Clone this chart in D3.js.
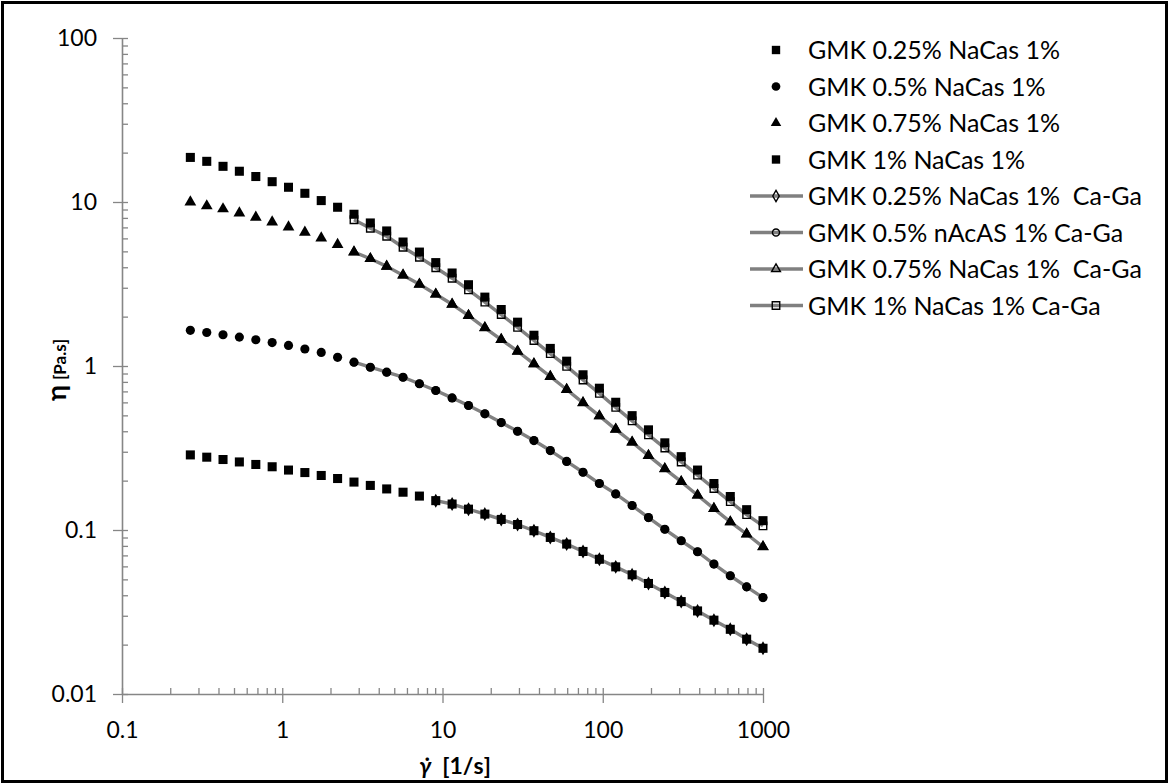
<!DOCTYPE html>
<html>
<head>
<meta charset="utf-8">
<script src="https://cdn.jsdelivr.net/npm/d3@7"></script>
<style>
  html, body { margin: 0; padding: 0; background: #fff; }
  svg { display: block; }
  text { font-family: Lato, "Liberation Sans", sans-serif; fill: #000; }
</style>
</head>
<body>
<svg id="chart" width="1169" height="784"></svg>
<script>
// ---------------- DATA ----------------
const shearRate = [0.267, 0.338, 0.427, 0.540, 0.684, 0.865, 1.094, 1.384, 1.751, 2.215,
  2.803, 3.545, 4.485, 5.673, 7.177, 9.078, 11.48, 14.53, 18.38, 23.25,
  29.41, 37.20, 47.06, 59.54, 75.32, 95.28, 120.5, 152.5, 192.9, 244.0,
  308.7, 390.5, 494.0, 625.0, 790.6, 1000];

const gmk025 = [0.287, 0.278, 0.269, 0.260, 0.251, 0.243, 0.232, 0.224, 0.215, 0.206,
  0.196, 0.187, 0.178, 0.170, 0.161, 0.151, 0.144, 0.134, 0.125, 0.116,
  0.108, 0.0990, 0.0901, 0.0821, 0.0740, 0.0663, 0.0596, 0.0533, 0.0472, 0.0416,
  0.0366, 0.0321, 0.0282, 0.0248, 0.0216, 0.0190];
const gmk05 = [1.65, 1.60, 1.55, 1.50, 1.445, 1.39, 1.335, 1.27, 1.21, 1.13,
  1.055, 0.983, 0.917, 0.854, 0.779, 0.709, 0.639, 0.574, 0.511, 0.452,
  0.400, 0.351, 0.305, 0.262, 0.225, 0.192, 0.166, 0.141, 0.119, 0.101,
  0.0860, 0.0737, 0.0620, 0.0526, 0.0450, 0.0387];
const gmk075 = [10.0, 9.46, 9.07, 8.57, 8.07, 7.55, 7.04, 6.54, 6.03, 5.50,
  4.95, 4.51, 4.05, 3.58, 3.15, 2.74, 2.38, 2.03, 1.71, 1.45,
  1.23, 1.03, 0.863, 0.719, 0.596, 0.496, 0.411, 0.343, 0.284, 0.236,
  0.197, 0.163, 0.135, 0.112, 0.0945, 0.0790];
const gmk1 = [18.7, 17.7, 16.5, 15.4, 14.3, 13.3, 12.3, 11.3, 10.2, 9.29,
  8.42, 7.45, 6.66, 5.70, 4.95, 4.27, 3.69, 3.13, 2.63, 2.21,
  1.85, 1.54, 1.28, 1.07, 0.884, 0.732, 0.601, 0.498, 0.408, 0.340,
  0.280, 0.232, 0.192, 0.160, 0.133, 0.114];

// Ca-Ga series (measured from ~2.8 1/s, the 0.25% one from ~9 1/s)
const caGaRate = [2.803, 3.545, 4.485, 5.673, 7.177, 9.078, 11.48, 14.53, 18.38, 23.25,
  29.41, 37.20, 47.06, 59.54, 75.32, 95.28, 120.5, 152.5, 192.9, 244.0,
  308.7, 390.5, 494.0, 625.0, 790.6, 1000];
const caGa025Rate = [9.078, 11.48, 14.53, 18.38, 23.25,
  29.41, 37.20, 47.06, 59.54, 75.32, 95.28, 120.5, 152.5, 192.9, 244.0,
  308.7, 390.5, 494.0, 625.0, 790.6, 1000];
const caGa025 = [0.151, 0.144, 0.134, 0.125, 0.116, 0.108, 0.0990, 0.0901, 0.0821, 0.0740,
  0.0663, 0.0596, 0.0533, 0.0472, 0.0416, 0.0366, 0.0321, 0.0282, 0.0248, 0.0216, 0.0190];
const caGa05 = [1.055, 0.983, 0.917, 0.854, 0.779, 0.709, 0.639, 0.574, 0.511, 0.452,
  0.400, 0.351, 0.305, 0.262, 0.225, 0.192, 0.166, 0.141, 0.119, 0.101,
  0.0860, 0.0737, 0.0620, 0.0526, 0.0450, 0.0387];
const caGa075 = [4.95, 4.51, 4.05, 3.58, 3.15, 2.74, 2.38, 2.03, 1.71, 1.45,
  1.23, 1.03, 0.863, 0.719, 0.596, 0.496, 0.411, 0.343, 0.284, 0.236,
  0.197, 0.163, 0.135, 0.112, 0.0945, 0.0790];
const caGa1 = [7.80, 6.92, 6.18, 5.30, 4.60, 3.97, 3.43, 2.91, 2.45, 2.06,
  1.72, 1.43, 1.19, 0.995, 0.822, 0.681, 0.559, 0.463, 0.380, 0.316,
  0.260, 0.216, 0.179, 0.149, 0.124, 0.106];

const xTickValues = [0.1, 1, 10, 100, 1000];
const xTickLabels = ["0.1", "1", "10", "100", "1000"];
const yTickValues = [0.01, 0.1, 1, 10, 100];
const yTickLabels = ["0.01", "0.1", "1", "10", "100"];

const seriesNames = [
  "GMK 0.25% NaCas 1%", "GMK 0.5% NaCas 1%", "GMK 0.75% NaCas 1%", "GMK 1% NaCas 1%",
  "GMK 0.25% NaCas 1%  Ca-Ga", "GMK 0.5% nAcAS 1% Ca-Ga", "GMK 0.75% NaCas 1%  Ca-Ga", "GMK 1% NaCas 1% Ca-Ga"
];

// ---------------- LAYOUT ----------------
const svg = d3.select("#chart");
const X0 = 122, X1 = 763, Y0 = 38, Y1 = 694;
const x = d3.scaleLog().domain([0.1, 1000]).range([X0, X1]);
const y = d3.scaleLog().domain([0.01, 100]).range([Y1, Y0]);
const axisColor = "#868686";
const lineColor = "#808080";

// outer border
svg.append("rect").attr("x", 2.5).attr("y", 2.5).attr("width", 1164).attr("height", 779)
  .attr("fill", "none").attr("stroke", "#000").attr("stroke-width", 3);

// minor tick values
const minorX = [], minorY = [];
for (let e = -1; e < 3; e++) for (let m = 2; m <= 9; m++) minorX.push(m * Math.pow(10, e));
for (let e = -2; e < 2; e++) for (let m = 2; m <= 9; m++) minorY.push(m * Math.pow(10, e));

function styleAxis(g) {
  g.select(".domain").attr("stroke", axisColor).attr("stroke-width", 1.6);
  g.selectAll(".tick line").attr("stroke", axisColor).attr("stroke-width", 1.3);
  g.selectAll("text").attr("font-size", 23).attr("fill", "#000")
    .attr("font-family", "Lato, 'Liberation Sans', sans-serif");
}

// Y axis
const gyMinor = svg.append("g").attr("transform", `translate(${X0},0)`)
  .call(d3.axisLeft(y).tickValues(minorY).tickSize(-6).tickFormat(""));
gyMinor.select(".domain").remove();
gyMinor.selectAll(".tick line").attr("stroke", axisColor).attr("stroke-width", 1.3);
const gy = svg.append("g").attr("transform", `translate(${X0},0)`)
  .call(d3.axisLeft(y).tickValues(yTickValues).tickSizeInner(9).tickSizeOuter(0)
    .tickPadding(16).tickFormat((d, i) => yTickLabels[i]));
gy.selectAll(".tick line").attr("x2", -9).attr("x1", 6);
styleAxis(gy);

// X axis
const gxMinor = svg.append("g").attr("transform", `translate(0,${Y1})`)
  .call(d3.axisBottom(x).tickValues(minorX).tickSize(-6).tickFormat(""));
gxMinor.select(".domain").remove();
gxMinor.selectAll(".tick line").attr("stroke", axisColor).attr("stroke-width", 1.3);
const gx = svg.append("g").attr("transform", `translate(0,${Y1})`)
  .call(d3.axisBottom(x).tickValues(xTickValues).tickSizeInner(9).tickSizeOuter(0)
    .tickPadding(19).tickFormat((d, i) => xTickLabels[i]));
gx.selectAll(".tick line").attr("y1", -6).attr("y2", 9);
styleAxis(gx);

// Axis titles
const xt = svg.append("text").attr("x", 455).attr("y", 774).attr("text-anchor", "middle")
  .attr("font-weight", "bold").attr("font-size", 23);
xt.append("tspan").attr("font-style", "italic").text("\u03B3\u0307");
xt.append("tspan").text("  [1/s]").attr("xml:space", "preserve");
xt.attr("xml:space", "preserve");

const yt = svg.append("text").attr("transform", "translate(66,370) rotate(-90)")
  .attr("text-anchor", "middle").attr("font-weight", "bold");
yt.append("tspan").attr("font-size", 27).text("\u03B7");
yt.append("tspan").attr("font-size", 17).attr("dx", 5).text("[Pa.s]");

// ---------------- MARKERS ----------------
const sym = {
  square: d3.symbolSquare, circle: d3.symbolCircle,
  triangle: d3.symbolTriangle, diamond: d3.symbolDiamond
};
function marker(g, type, area, filled) {
  return g.append("path").attr("d", d3.symbol().type(sym[type]).size(area)())
    .attr("fill", filled ? "#000" : "none")
    .attr("stroke", "#000").attr("stroke-width", filled ? 0 : 1.4);
}

const plot = svg.append("g");
const lineGen = d3.line().x(d => x(d[0])).y(d => y(d[1]));

const caGaSeries = [
  { rate: caGa025Rate, vals: caGa025, type: "diamond", area: 36 },
  { rate: caGaRate, vals: caGa05, type: "circle", area: 40 },
  { rate: caGaRate, vals: caGa075, type: "triangle", area: 34 },
  { rate: caGaRate, vals: caGa1, type: "square", area: 56 }
];
const scatterSeries = [
  { vals: gmk025, type: "square", area: 82 },
  { vals: gmk05, type: "circle", area: 66 },
  { vals: gmk075, type: "triangle", area: 60 },
  { vals: gmk1, type: "square", area: 82 }
];

// Ca-Ga lines
caGaSeries.forEach(s => {
  const pts = s.rate.map((r, i) => [r, s.vals[i]]);
  plot.append("path").attr("d", lineGen(pts)).attr("fill", "none")
    .attr("stroke", lineColor).attr("stroke-width", 3.4).attr("stroke-linejoin", "round");
});
// filled scatter markers
scatterSeries.forEach(s => {
  s.vals.forEach((v, i) => {
    marker(plot, s.type, s.area, true)
      .attr("transform", `translate(${x(shearRate[i])},${y(v)})`);
  });
});
// open Ca-Ga markers
caGaSeries.forEach(s => {
  s.rate.forEach((r, i) => {
    marker(plot, s.type, s.area, false)
      .attr("transform", `translate(${x(r)},${y(s.vals[i])})`);
  });
});

// ---------------- LEGEND ----------------
const legY0 = 50, legStep = 36.5, legMx = 776, legTx = 808;
const legTypes = [
  { type: "square", area: 70, filled: true, line: false },
  { type: "circle", area: 60, filled: true, line: false },
  { type: "triangle", area: 48, filled: true, line: false },
  { type: "square", area: 70, filled: true, line: false },
  { type: "diamond", area: 36, filled: false, line: true },
  { type: "circle", area: 40, filled: false, line: true },
  { type: "triangle", area: 34, filled: false, line: true },
  { type: "square", area: 56, filled: false, line: true }
];
const leg = svg.append("g");
seriesNames.forEach((name, i) => {
  const ly = legY0 + i * legStep;
  const t = legTypes[i];
  if (t.line) {
    leg.append("line").attr("x1", 750).attr("x2", 803).attr("y1", ly).attr("y2", ly)
      .attr("stroke", lineColor).attr("stroke-width", 3.4);
  }
  marker(leg, t.type, t.area, t.filled).attr("transform", `translate(${legMx},${ly})`);
  leg.append("text").attr("x", legTx).attr("y", ly).attr("dy", "0.36em")
    .attr("font-size", 25).attr("xml:space", "preserve").text(name);
});
</script>
</body>
</html>
